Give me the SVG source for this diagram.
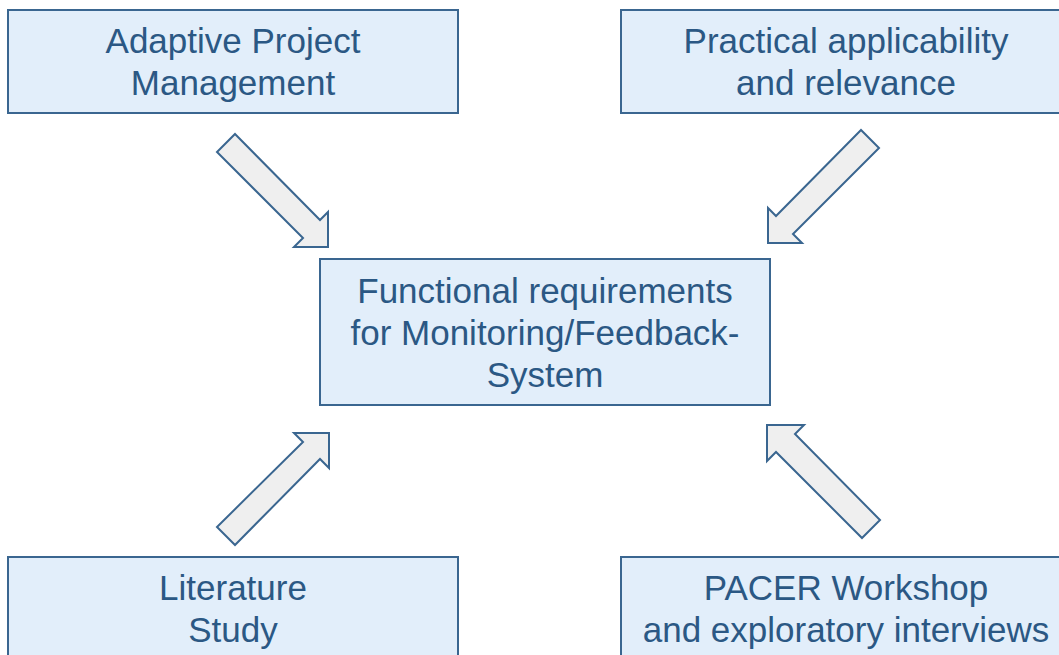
<svg xmlns="http://www.w3.org/2000/svg" width="1059" height="655" viewBox="0 0 1059 655">
<style>
.box{fill:#e2eefa;stroke:#3a6690;stroke-width:2}
.arr{fill:#efefef;stroke:#3a6690;stroke-width:2;stroke-linejoin:miter}
.t{font-family:"Liberation Sans",Arial,sans-serif;font-size:35px;fill:#2b5884;text-anchor:middle}
</style>
<rect width="1059" height="655" fill="#ffffff"/>
<g id="node-apm">
<rect class="box" x="8" y="10" width="450" height="103"/>
<text class="t" x="233" y="53">Adaptive Project</text>
<text class="t" x="233" y="95">Management</text>
</g>
<g id="node-practical">
<rect class="box" x="621" y="10" width="450" height="103"/>
<text class="t" x="846" y="53">Practical applicability</text>
<text class="t" x="846" y="95">and relevance</text>
</g>
<g id="node-center">
<rect class="box" x="320" y="259" width="450" height="146"/>
<text class="t" x="545" y="303">Functional requirements</text>
<text class="t" x="545" y="345">for Monitoring/Feedback-</text>
<text class="t" x="545" y="387">System</text>
</g>
<g id="node-literature">
<rect class="box" x="8" y="557" width="450" height="110"/>
<text class="t" x="233" y="600">Literature</text>
<text class="t" x="233" y="642">Study</text>
</g>
<g id="node-pacer">
<rect class="box" x="621" y="557" width="450" height="110"/>
<text class="t" x="846" y="600">PACER Workshop</text>
<text class="t" x="846" y="642">and exploratory interviews</text>
</g>
<g id="connectors">
<path class="arr" d="M235,134 L320,220 L328,212 L328,247 L294,247 L303,238 L217,152 Z"/>
<path class="arr" d="M861,130 L776,216 L768,208 L768,243 L802,243 L793,234 L879,148 Z"/>
<path class="arr" d="M294,433 L329,433 L329,468 L320,459 L235,545 L217,527 L303,442 Z"/>
<path class="arr" d="M767,425 L804,425 L795,434 L880,520 L862,538 L776,452 L767,461 Z"/>
</g>
</svg>
